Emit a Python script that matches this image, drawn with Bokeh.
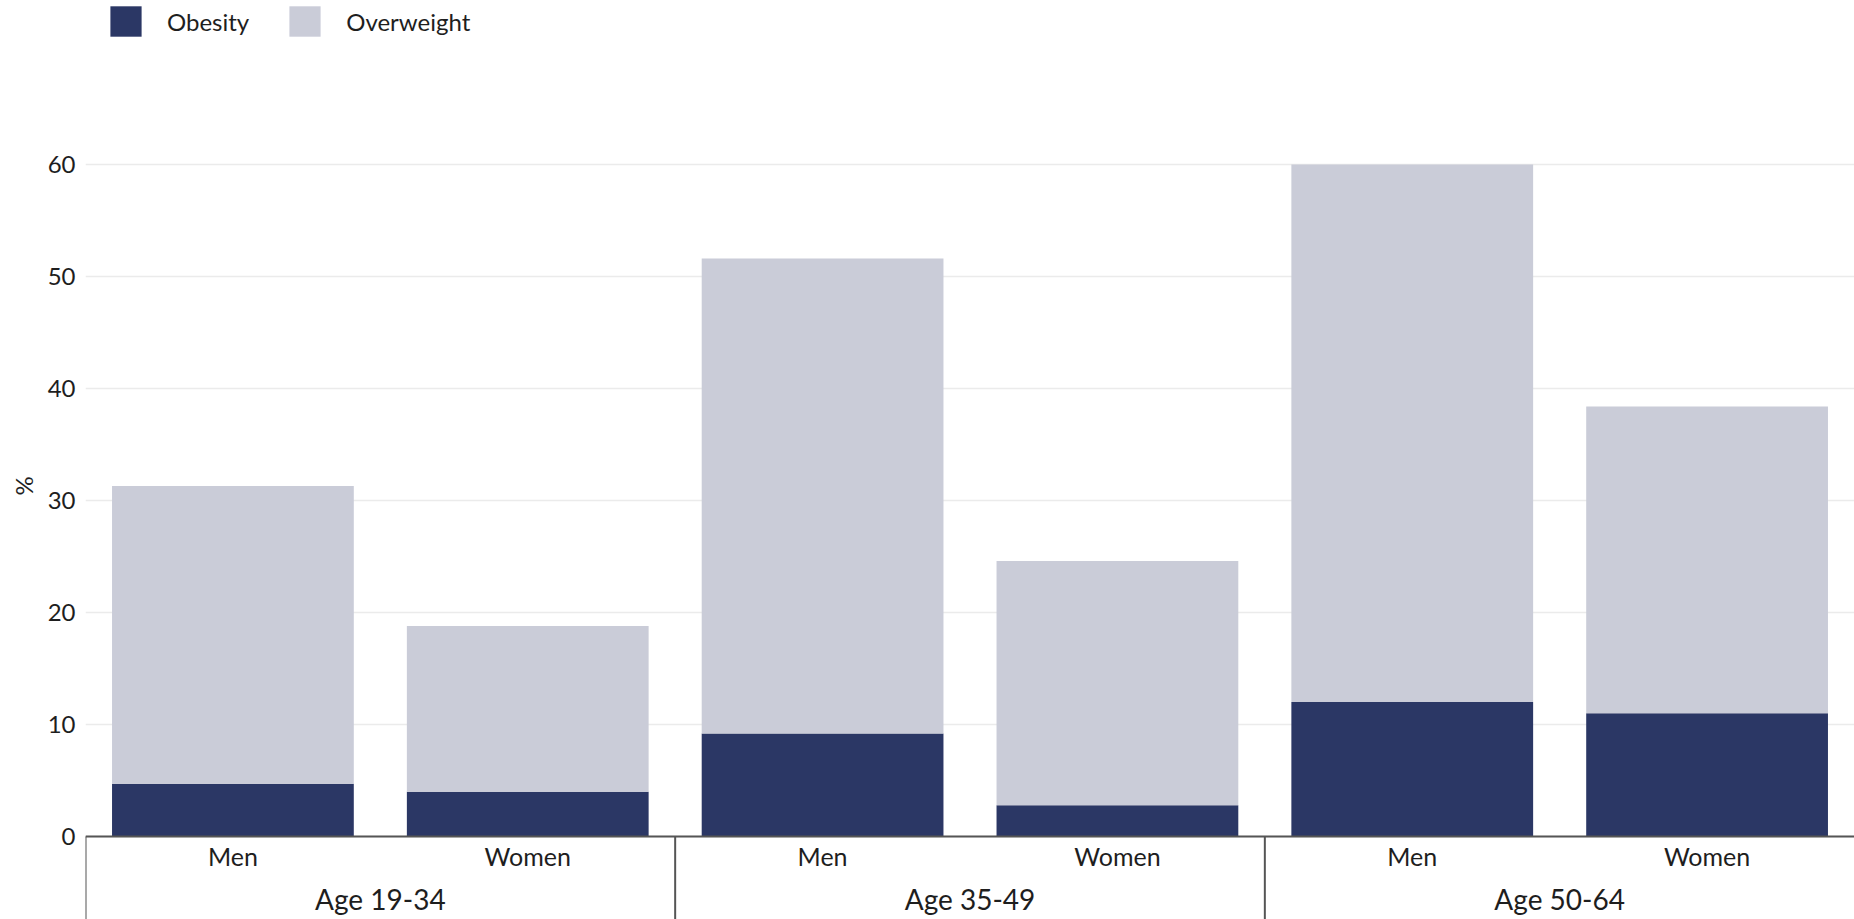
from bokeh.plotting import figure
from bokeh.models import (FactorRange, Range1d, FixedTicker, Legend, LegendItem,
                          ColumnDataSource, CategoricalAxis, Title)
from bokeh.embed import file_html
from bokeh.resources import INLINE

# ---- data ----
age_groups = ["Age 19-34", "Age 35-49", "Age 50-64"]
sexes = ["Men", "Women"]
series = ["Obesity", "Overweight"]
obesity = [4.7, 4.0, 9.2, 2.8, 12.0, 11.0]
overweight = [26.6, 14.8, 42.4, 21.8, 48.0, 27.4]
y_ticks = [0, 10, 20, 30, 40, 50, 60]
colors = ["#2B3765", "#CACCD8"]

FONT = "Lato"
TXT = "#1e1e1e"
AX = "#555555"

factors = [(a, s) for a in age_groups for s in sexes]
source = ColumnDataSource(dict(x=factors, Obesity=obesity, Overweight=overweight))

x_range = FactorRange(*factors, group_padding=0, factor_padding=0, range_padding=0)

p = figure(width=1854, height=919, x_range=x_range, y_range=Range1d(-7.41, 74.64),
           output_backend="svg", toolbar_location=None,
           min_border_left=85, min_border_right=0, min_border_top=0,
           min_border_bottom=0)

rs = p.vbar_stack(series, x="x", width=0.82, fill_color=colors, line_color=None,
                  source=source)

# group separators below the axis
n = len(sexes)
bounds = [i * n for i in range(len(age_groups))]
p.segment(x0=bounds, y0=[0] * len(bounds), x1=bounds,
          y1=[p.y_range.start] * len(bounds), line_color=AX, line_width=2)

legend = Legend(items=[LegendItem(label=series[0], renderers=[rs[0]]),
                       LegendItem(label=series[1], renderers=[rs[1]])],
                orientation="horizontal", location=(21, 879))
legend.padding = 0
legend.margin = 0
legend.border_line_color = None
legend.background_fill_alpha = 0
legend.glyph_width = 39
legend.glyph_height = 38
legend.label_standoff = 22
legend.spacing = 36
legend.label_text_font = FONT
legend.label_text_font_size = "24px"
legend.label_text_color = TXT
p.add_layout(legend)

p.outline_line_color = None
p.xgrid.grid_line_color = None
p.ygrid.grid_line_color = "#EBEBEB"
p.ygrid.grid_line_width = 1.5

yax = p.yaxis[0]
yax.ticker = FixedTicker(ticks=y_ticks)
yax.axis_line_color = None
yax.major_tick_line_color = None
yax.minor_tick_line_color = None
yax.major_label_standoff = 4
yax.major_label_text_font = FONT
yax.major_label_text_font_size = "24px"
yax.major_label_text_color = TXT

# y axis title "%", positioned along the axis
ytitle = Title(text="%", align="left", offset=424, standoff=10,
               vertical_align="top", text_font=FONT,
               text_font_size="24px", text_font_style="normal", text_color=TXT)
p.add_layout(ytitle, "left")

# axis 1: baseline + Men/Women labels
xax = p.xaxis[0]
xax.fixed_location = 0
xax.axis_line_color = AX
xax.axis_line_width = 2
xax.major_tick_line_color = None
xax.minor_tick_line_color = None
xax.major_label_standoff = -2
xax.major_label_text_font = FONT
xax.major_label_text_font_size = "25px"
xax.major_label_text_color = TXT
xax.group_text_font = FONT
xax.group_text_font_size = "28px"
xax.group_text_color = None
xax.separator_line_color = None

# axis 2: age group labels, a little lower
gax = CategoricalAxis(fixed_location=0, axis_line_color=None,
                      major_tick_line_color=None, minor_tick_line_color=None,
                      major_label_standoff=39, major_label_text_font=FONT,
                      major_label_text_font_size="25px", major_label_text_color=None,
                      group_text_font=FONT, group_text_font_style="normal",
                      group_text_font_size="28px", group_text_color=TXT,
                      separator_line_color=None)
p.add_layout(gax, "below")

open("out.html", "w").write(file_html(p, INLINE))
